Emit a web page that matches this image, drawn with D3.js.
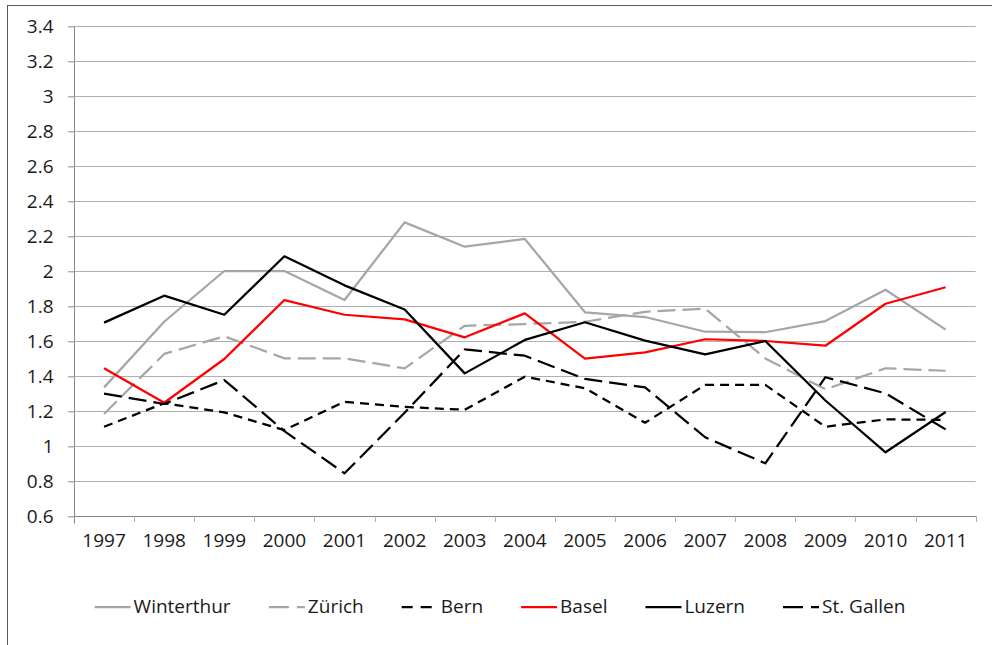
<!DOCTYPE html>
<html>
<head>
<meta charset="utf-8">
<script src="https://cdn.jsdelivr.net/npm/d3@7"></script>
<style>
  body { margin: 0; background: #fff; }
  svg text { font-family: 'Open Sans', sans-serif; fill: #1a1a1a; }
</style>
</head>
<body>
<div id="chart"></div>
<script>
// values
const years = ['1997', '1998', '1999', '2000', '2001', '2002', '2003', '2004', '2005', '2006', '2007', '2008', '2009', '2010', '2011']
const yTicks = [0.6, 0.8, 1, 1.2, 1.4, 1.6, 1.8, 2, 2.2, 2.4, 2.6, 2.8, 3, 3.2, 3.4]

const winterthur = [1.335, 1.71, 2.0, 2.0, 1.834, 2.278, 2.139, 2.183, 1.764, 1.737, 1.653, 1.65, 1.714, 1.893, 1.665]
const zurich = [1.183, 1.526, 1.627, 1.501, 1.501, 1.444, 1.687, 1.697, 1.71, 1.767, 1.785, 1.5, 1.324, 1.444, 1.43]
const bern = [1.11, 1.244, 1.192, 1.091, 1.253, 1.223, 1.207, 1.396, 1.33, 1.133, 1.349, 1.349, 1.11, 1.152, 1.149]
const basel = [1.444, 1.247, 1.497, 1.834, 1.75, 1.724, 1.621, 1.758, 1.499, 1.535, 1.61, 1.6, 1.573, 1.813, 1.907]
const luzern = [1.705, 1.859, 1.75, 2.084, 1.918, 1.78, 1.415, 1.606, 1.707, 1.602, 1.524, 1.6, 1.26, 0.964, 1.194]
const stgallen = [1.299, 1.24, 1.377, 1.085, 0.844, 1.19, 1.552, 1.516, 1.383, 1.335, 1.05, 0.901, 1.393, 1.301, 1.095]

const series = [
  { name: 'Winterthur', values: winterthur, color: '#a6a6a6', dash: null },
  { name: 'Zürich', values: zurich, color: '#a6a6a6', dash: '18,7' },
  { name: 'Bern', values: bern, color: '#000', dash: '9,6' },
  { name: 'Basel', values: basel, color: '#ff0000', dash: null },
  { name: 'Luzern', values: luzern, color: '#000', dash: null },
  { name: 'St. Gallen', values: stgallen, color: '#000', dash: '18,7' }
]

const W = 992
const H = 645
const plot = { left: 74, right: 975.7, top: 26, bottom: 516 }
const fontSize = 19

const svg = d3.select('#chart').append('svg')
  .attr('width', W)
  .attr('height', H)

// chart frame (cut off on the right and bottom like the reference)
svg.append('rect')
  .attr('x', 7.5).attr('y', 5.5)
  .attr('width', W + 20).attr('height', H + 20)
  .attr('fill', 'none')
  .attr('stroke', '#595959')

const x = d3.scaleBand()
  .domain(years)
  .range([plot.left, plot.right])

const y = d3.scaleLinear()
  .domain([0.6, 3.4])
  .range([plot.bottom, plot.top])

// gridlines
svg.append('g')
  .selectAll('line')
  .data(yTicks)
  .enter().append('line')
  .attr('x1', plot.left - 6)
  .attr('x2', plot.right)
  .attr('y1', d => Math.round(y(d)) + 0.5)
  .attr('y2', d => Math.round(y(d)) + 0.5)
  .attr('stroke', '#b0b0b0')
  .attr('stroke-width', 1)

// y axis
const yAxis = svg.append('g')
  .attr('transform', 'translate(' + (plot.left + 0.5) + ',0.5)')
  .call(d3.axisLeft(y).tickValues(yTicks).tickSize(6).tickPadding(15).tickFormat(d3.format('~g')))
yAxis.select('.domain').attr('stroke', '#868686').attr('d', 'M0,' + plot.top + 'V' + (plot.bottom + 7))
yAxis.selectAll('.tick line').attr('stroke', '#b0b0b0')
yAxis.selectAll('text').style('font-size', fontSize + 'px').attr('fill', '#1a1a1a')

// x axis
const xAxis = svg.append('g')
  .attr('transform', 'translate(0,' + (plot.bottom + 0.5) + ')')
  .call(d3.axisBottom(x).tickSize(0).tickPadding(17))
xAxis.select('.domain').attr('stroke', '#868686').attr('d', 'M' + plot.left + ',0H' + plot.right)
xAxis.selectAll('text').style('font-size', fontSize + 'px').attr('fill', '#1a1a1a')

// category boundary ticks
svg.append('g')
  .selectAll('line')
  .data(years.slice(1).concat(['end']))
  .enter().append('line')
  .attr('x1', d => Math.round(d === 'end' ? plot.right : x(d)) + 0.5)
  .attr('x2', d => Math.round(d === 'end' ? plot.right : x(d)) + 0.5)
  .attr('y1', plot.bottom)
  .attr('y2', plot.bottom + 6)
  .attr('stroke', '#b0b0b0')

const line = d3.line()
  .x((d, i) => x(years[i]) + x.bandwidth() / 2)
  .y(d => y(d))

svg.append('g')
  .selectAll('path')
  .data(series)
  .enter().append('path')
  .attr('d', d => line(d.values))
  .attr('fill', 'none')
  .attr('stroke', d => d.color)
  .attr('stroke-width', 2.25)
  .attr('stroke-dasharray', d => d.dash)
  .attr('stroke-linejoin', 'round')

// legend, items laid out with equal gaps and centered
const legendY = 607
const lineLen = 36
const legend = svg.append('g')
const items = legend.selectAll('g')
  .data(series)
  .enter().append('g')
items.append('line')
  .attr('x1', 0).attr('x2', lineLen)
  .attr('y1', legendY).attr('y2', legendY)
  .attr('stroke', d => d.color)
  .attr('stroke-width', 2.25)
  .attr('stroke-dasharray', d => d.dash ? (d.name === 'Bern' ? '11,8' : '20,8') : null)
items.append('text')
  .attr('x', lineLen + 3)
  .attr('y', legendY + 6)
  .style('font-size', fontSize + 'px')
  .text(d => d.name)

const gap = 38
let pos = 0
const widths = []
items.each(function () { widths.push(this.getBBox().width) })
const total = d3.sum(widths) + gap * (widths.length - 1)
pos = 500 - total / 2
items.attr('transform', (d, i) => {
  const t = 'translate(' + pos + ',0)'
  pos += widths[i] + gap
  return t
})
</script>
</body>
</html>
